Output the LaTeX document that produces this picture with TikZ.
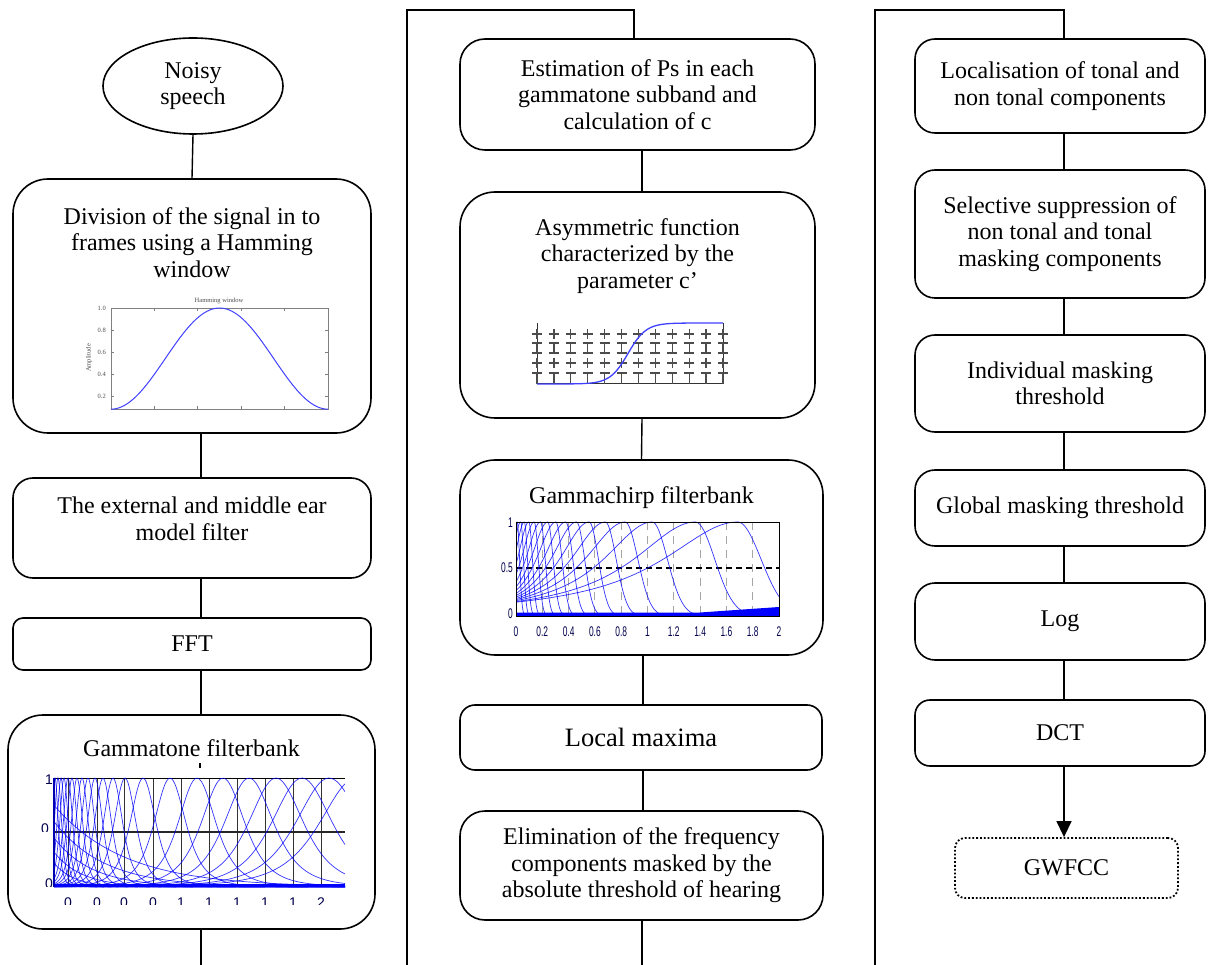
\documentclass[tikz,border=0pt]{standalone}
\usepackage{fontspec}
\usepackage{graphicx}
\setmainfont{Liberation Serif}
\setsansfont{Liberation Sans}
\usetikzlibrary{shapes.geometric,arrows.meta}
\newcommand\mainfs{\rmfamily\fontsize{24}{26.5}\selectfont}
\newcommand\bigfs{\rmfamily\fontsize{26.5}{28}\selectfont}
\begin{document}
\begin{tikzpicture}[x=1pt,y=-1pt,
  box/.style={draw, line width=1.6pt, rounded corners=#1, inner sep=0pt, align=center, font=\mainfs},
  box/.default=20pt,
  ttl/.style={inner sep=0pt, align=center, font=\mainfs, anchor=north},
  conn/.style={line width=1.4pt},
  bl/.style={blue, line width=0.7pt, opacity=0.8},
  ag/.style={black!70, line width=1.2pt},
  hl/.style={inner sep=0pt, font=\rmfamily\fontsize{6.5}{7}\selectfont, text=black!70},
  cl/.style={inner sep=0pt, font=\fontsize{14}{14}\selectfont\sffamily, text=black!70!blue},
  declare function={lor(\u)=1/((1+\u*\u)*(1+\u*\u));}
]
\useasboundingbox (0,0) rectangle (1208,965);
\fill[white] (0,0) rectangle (1208,965);

% ---------------- left column ----------------
\node[draw, ellipse, line width=1.6pt, minimum width=180pt, minimum height=96pt, inner sep=0pt, align=center, font=\mainfs] (noisy) at (193,86) {Noisy\\speech};

\node[box=35pt, minimum width=358pt, minimum height=254pt] (div) at (192,306) {};
\node[ttl] (divt) at (192,207) {Division of the signal in to\\frames using a Hamming\\window};

\node[box=20pt, minimum width=358pt, minimum height=100pt] (ext) at (192,528) {};
\node[ttl] (extt) at (192,497) {The external and middle ear\\model filter};

\node[box=10pt, minimum width=358pt, minimum height=52pt] (fft) at (192,644) {FFT};

\node[box=35pt, minimum width=367pt, minimum height=214pt] (gt) at (191.5,822) {};
\node[ttl] (gtt) at (191.5,739) {Gammatone filterbank};
\draw[line width=1.5pt] (200,763) -- (200,768);

% Hamming plot
\draw[gray, line width=0.6pt] (111,308) rectangle (328,409);
\foreach \v/\yy in {1.0/308,0.8/330,0.6/352,0.4/374,0.2/396} {
  \node[hl, anchor=east] (hy\yy) at (106,\yy) {\v};
  \draw[gray, line width=0.5pt] (111,\yy) -- (114,\yy) (328,\yy) -- (325,\yy);
}
\foreach \xx in {154,197,241,284} {
  \draw[gray, line width=0.5pt] (\xx,308) -- (\xx,311) (\xx,409) -- (\xx,406);
}
\node[hl] (hamt) at (219,301) {Hamming window};
\node[hl, rotate=90] (hamy) at (89,358) {Amplitude};
\draw[blue!75, line width=1pt] plot[domain=0:1, samples=80] ({111+217*\x},{308+110*(0.46+0.46*cos(360*\x))});

% Gammatone plot
\begin{scope}
  \clip (54,776) rectangle (345,889);
  \foreach \xx in {68,97,124,153,181,209,237,265,293,321}
    \draw[black!80, line width=0.8pt] (\xx,778) -- (\xx,887);
  \draw[black, line width=1pt] (54,778) -- (345,778);
  \draw[black!85, line width=1.6pt] (54,832) -- (345,832);
  \foreach \c in {55,58,61,64,68,72,77,82,88,95,103,113,125,143,170,197,223,249,276,302,329,356} {
    \pgfmathsetmacro\gw{0.2*(\c-40)+3}
    \pgfmathsetmacro\gxa{max(54,\c-7*\gw)}
    \pgfmathsetmacro\gxb{min(345,\c+7*\gw)}
    \draw[bl] plot[domain=\gxa:\gxb, samples=90, smooth] (\x,{887-109*lor((\x-\c)/\gw)});
  }
  \foreach \a/\d in {0.75/70,0.6/50,0.45/38,0.32/28,0.22/20}
    \draw[bl] plot[domain=54:345, samples=60, smooth] (\x,{887-109*\a*exp(-(\x-54)/\d)});
\end{scope}
\draw[blue, line width=3pt] (54,885.5) -- (345,885.5);
\draw[blue!70!black, line width=1.2pt] (54,778) -- (54,887);
\node[cl, anchor=east] (gy1) at (53,780) {1};
\begin{scope}
  \clip (0,820) rectangle (60,831);
  \node[cl, anchor=north east] (gy2) at (49,824) {0};
\end{scope}
\begin{scope}
  \clip (0,876) rectangle (60,886);
  \node[cl, anchor=north east] (gy3) at (53,879) {0};
\end{scope}
\begin{scope}
  \clip (0,897) rectangle (390,904);
  \foreach \xx/\t [count=\i] in {68/0,97/0,124/0,153/0,181/1,209/1,237/1,265/1,293/1,321/2}
    \node[cl, anchor=north] (gx\i) at (\xx,898) {\t};
\end{scope}

\draw[conn] (noisy.south) -- (div.north);
\draw[conn] ([xshift=9pt]div.south) -- ([xshift=9pt]ext.north);
\draw[conn] ([xshift=9pt]ext.south) -- ([xshift=9pt]fft.north);
\draw[conn] ([xshift=9pt]fft.south) -- ([xshift=9.5pt]gt.north);
\coordinate (e1) at (201,965);
\draw[conn] ([xshift=9.5pt]gt.south) -- (e1);

% ---------------- middle column ----------------
\node[box=25pt, minimum width=355pt, minimum height=111pt] (est) at (637.5,94.5) {Estimation of Ps in each\\gammatone subband and\\calculation of c};

\node[box=35pt, minimum width=355pt, minimum height=226pt] (asym) at (637.5,305) {};
\node[ttl] (asymt) at (637.5,218) {Asymmetric function\\characterized by the\\parameter c’};

% asymmetric plot
\draw[black!80, line width=1pt] (537,323) -- (537,384) -- (723,384) -- (723,323);
\foreach \k in {0,...,11} {
  \pgfmathsetmacro\ax{537+16.9*\k}
  \foreach \yy in {334,343,353,363,373}
    \draw[ag] (\ax-5,\yy) -- (\ax+5,\yy);
  \draw[ag] (\ax,329) -- (\ax,339) (\ax,343) -- (\ax,353) (\ax,358) -- (\ax,368) (\ax,373) -- (\ax,384);
}
\draw[blue!75, line width=1.3pt] plot[domain=537:723, samples=80] (\x,{384-61/(1+exp(-max(-8,min(8,(\x-628)/9))))});

\node[box=35pt, minimum width=363pt, minimum height=195pt] (chirp) at (641.5,557.5) {};
\node[ttl] (chirpt) at (641.5,486) {Gammachirp filterbank};

% gammachirp plot
\foreach \k in {1,...,9}
  \draw[gray!70, line width=1pt, dash pattern=on 8pt off 6pt] ({516+26.3*\k},522) -- ({516+26.3*\k},616);
\draw[black, line width=1.2pt, dash pattern=on 6pt off 4pt] (516,568) -- (779,568);
\begin{scope}
  \clip (516,521) rectangle (779,617);
  \foreach \r in {765,718,670,640,618,600,586,574,563,554,546,539,533,528,524,520} {
    \pgfmathsetmacro\cwr{0.12*(\r-516)+3}
    \pgfmathsetmacro\cc{\r-0.83*\cwr}
    \pgfmathsetmacro\cwl{2.8*\cwr}
    \pgfmathsetmacro\cxb{min(779,\cc+3*\cwr)}
    \draw[bl] plot[domain=516:\cc, samples=50, smooth] (\x,{616-94/(1+((\x-\cc)/\cwl)*((\x-\cc)/\cwl))})
      -- plot[domain=\cc:\cxb, samples=40, smooth] (\x,{616-94*exp(-((\x-\cc)/\cwr)*((\x-\cc)/\cwr))});
  }
\end{scope}
\fill[blue] (516,612.5) -- (700,612.5) -- (779,607) -- (779,616) -- (516,616) -- cycle;
\draw[black, line width=1pt] (516,522) rectangle (779,616);
\node[cl, anchor=east] (cy1) at (513,523) {\scalebox{0.6}[1]{1}};
\node[cl, anchor=east] (cy2) at (513,568) {\scalebox{0.6}[1]{0.5}};
\node[cl, anchor=east] (cy3) at (513,614) {\scalebox{0.6}[1]{0}};
\foreach \k/\t in {0/0,1/0.2,2/0.4,3/0.6,4/0.8,5/1,6/1.2,7/1.4,8/1.6,9/1.8,10/2}
  \node[cl] (cx\k) at ({516+26.3*\k},632) {\scalebox{0.6}[1]{\t}};

\node[box=15pt, minimum width=362pt, minimum height=65pt, font=\bigfs] (lmax) at (641,737.5) {Local maxima};

\node[box=25pt, minimum width=363pt, minimum height=109pt] (elim) at (641.5,865.5) {Elimination of the frequency\\components masked by the\\absolute threshold of hearing};

\coordinate (s2) at (407,965);
\coordinate (k2) at (407,10);
\draw[conn] (s2) -- (k2) -| ([xshift=-3.5pt]est.north);
\draw[conn] ([xshift=4.5pt]est.south) -- ([xshift=4.5pt]asym.north);
\draw[conn] ([xshift=4.5pt]asym.south) -- (chirp.north);
\draw[conn] ([xshift=1.5pt]chirp.south) -- ([xshift=2pt]lmax.north);
\draw[conn] ([xshift=2pt]lmax.south) -- ([xshift=1.5pt]elim.north);
\coordinate (e2) at (642,965);
\draw[conn] ([xshift=0.5pt]elim.south) -- (e2);

% ---------------- right column ----------------
\node[box=20pt, minimum width=290pt, minimum height=94pt] (loc) at (1060,86) {Localisation of tonal and\\non tonal components};
\node[box=20pt, minimum width=290pt, minimum height=128pt] (sel) at (1060,234) {Selective suppression of\\non tonal and tonal\\masking components};
\node[box=20pt, minimum width=290pt, minimum height=97pt] (ind) at (1060,383.5) {Individual masking\\threshold};
\node[box=20pt, minimum width=290pt, minimum height=76pt] (glob) at (1060,508) {Global masking threshold};
\node[box=20pt, minimum width=290pt, minimum height=77pt] (log) at (1060,621.5) {Log};
\node[box=15pt, minimum width=290pt, minimum height=66pt] (dct) at (1060,733) {DCT};
\node[box=10pt, line width=1.8pt, dash pattern=on 1.8pt off 2pt, minimum width=223pt, minimum height=60pt] (gw) at (1066.5,868) {GWFCC};

\coordinate (s3) at (875,965);
\coordinate (k3) at (875,10);
\draw[conn] (s3) -- (k3) -| ([xshift=4pt]loc.north);
\draw[conn] ([xshift=4pt]loc.south) -- ([xshift=4pt]sel.north);
\draw[conn] ([xshift=4pt]sel.south) -- ([xshift=4pt]ind.north);
\draw[conn] ([xshift=4pt]ind.south) -- ([xshift=4pt]glob.north);
\draw[conn] ([xshift=4pt]glob.south) -- ([xshift=4pt]log.north);
\draw[conn] ([xshift=4pt]log.south) -- ([xshift=4pt]dct.north);
\draw[conn, -{Triangle[length=16pt,width=15pt]}] ([xshift=4pt]dct.south) -- ([xshift=-2.5pt]gw.north);
\end{tikzpicture}
\end{document}
